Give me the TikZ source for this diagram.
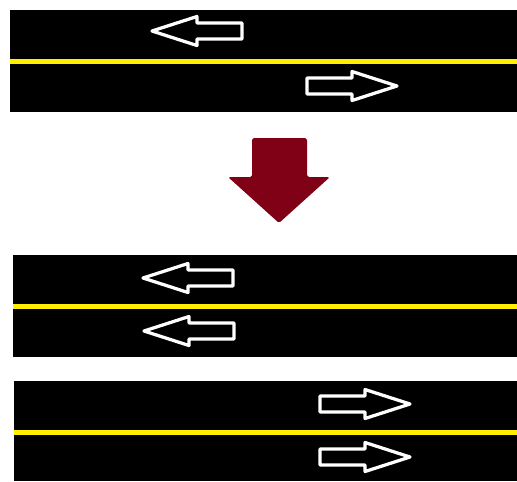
\documentclass[tikz,border=0pt]{standalone}
\definecolor{roadyellow}{RGB}{255,238,0}
\definecolor{arrowred}{RGB}{128,0,22}
\tikzset{
    road/.style={fill=black},
    centreline/.style={draw=roadyellow, line width=0.1cm},
    lanemark/.style={draw=white, line width=0.065cm, line join=round},
    pics/lanearrow/.style={code={
        \draw[lanemark] (0,0) -- (45,14.5) -- (45,8) -- (90,8) -- (90,-8)
            -- (45,-8) -- (45,-14.5) -- cycle;
    }}
}

\begin{document}
\begin{tikzpicture}[x=0.02cm, y=-0.02cm]
\useasboundingbox (0,0) rectangle (517,481);

% Road before: one lane each way
\fill[road] (10,10) rectangle (517,112);
\draw[centreline] (10,61) -- (517,61);
\pic at (152,31) {lanearrow};
\pic[xscale=-1] at (397,86) {lanearrow};

% Down arrow
\fill[arrowred, rounded corners=1pt] (252,138) -- (307,138) -- (307,177)
    -- (330,177) -- (279,223) -- (228,177) -- (252,177) -- cycle;

% Road after: westbound pair
\fill[road] (13,255) rectangle (517,357);
\draw[centreline] (13,306) -- (517,306);
\pic at (143,278) {lanearrow};
\pic at (144,331) {lanearrow};

% Road after: eastbound pair
\fill[road] (14,381) rectangle (517,481);
\draw[centreline] (14,432) -- (517,432);
\pic[xscale=-1] at (410,404) {lanearrow};
\pic[xscale=-1] at (410,457) {lanearrow};

\end{tikzpicture}
\end{document}
